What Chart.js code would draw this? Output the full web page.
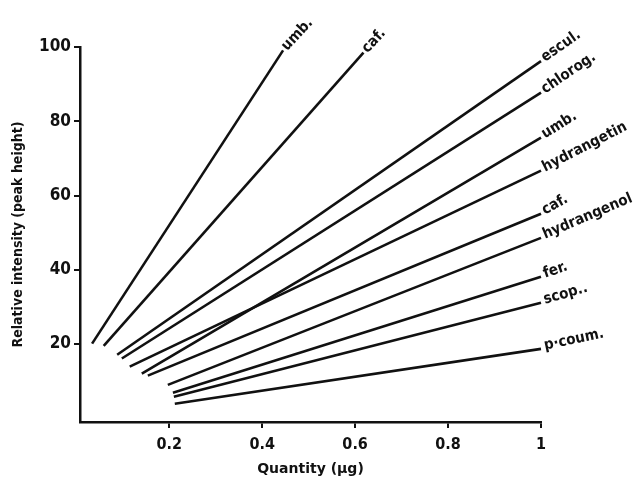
<!DOCTYPE html>
<html>
<head>
<meta charset="utf-8">
<script src="https://cdn.jsdelivr.net/npm/chart.js@4.4.0/dist/chart.umd.min.js"></script>
<style>
  html, body { margin: 0; padding: 0; background: #fff; }
</style>
</head>
<body>
<canvas id="chart" width="644" height="481"></canvas>
<script>
// composés (étiquettes des droites)
const compounds = ["umb.", "caf.", "escul.", "chlorog.", "umb.", "hydrangetin", "caf.", "hydrangenol", "fer.", "scop..", "p\u00b7coum."];
// quantité (µg) au début et à la fin de chaque droite
const qtyStart = [0.034, 0.059, 0.088, 0.098, 0.141, 0.115, 0.154, 0.197, 0.208, 0.21, 0.212];
const qtyEnd = [0.445, 0.618, 1, 1, 1, 1, 1, 1, 1, 1, 1];
// intensité relative (hauteur du pic)
const heightStart = [20.1, 19.5, 17.1, 16.1, 12.0, 13.9, 11.5, 9.0, 6.9, 5.8, 3.9];
const heightEnd = [99.1, 98.5, 96.2, 87.7, 75.6, 66.7, 55.1, 48.6, 38.1, 31.1, 18.7];
const xTicks = [0.2, 0.4, 0.6, 0.8, 1];
const yTicks = [20, 40, 60, 80, 100];

// angle des étiquettes en degrés
const labelAngles = [-47, -47, -35, -34, -32, -27, -29, -23, -19, -16, -12];

const ink = "#111";
const narrow = "'DejaVu Sans Condensed', 'DejaVu Sans', sans-serif";

const curveLabels = {
  id: "curveLabels",
  afterDatasetsDraw(chart) {
    const ctx = chart.ctx;
    const xs = chart.scales.x;
    const ys = chart.scales.y;
    ctx.save();
    ctx.fillStyle = ink;
    ctx.font = "bold 15px 'DejaVu Sans Condensed', 'DejaVu Sans', sans-serif";
    ctx.textBaseline = "alphabetic";
    ctx.textAlign = "left";
    compounds.forEach((name, i) => {
      const px = xs.getPixelForValue(qtyEnd[i]);
      const py = ys.getPixelForValue(heightEnd[i]);
      ctx.save();
      ctx.translate(px + 4, py + 1);
      ctx.rotate(labelAngles[i] * Math.PI / 180);
      ctx.fillText(name, 0, 0);
      ctx.restore();
    });
    ctx.restore();
  }
};

const datasets = compounds.map((name, i) => ({
  label: name,
  data: [
    { x: qtyStart[i], y: heightStart[i] },
    { x: qtyEnd[i], y: heightEnd[i] }
  ],
  borderColor: ink,
  borderWidth: 2.6,
  pointRadius: 0,
  fill: false,
  clip: false,
  tension: 0
}));

new Chart(document.getElementById("chart"), {
  type: "line",
  data: { datasets: datasets },
  plugins: [curveLabels],
  options: {
    responsive: false,
    animation: false,
    layout: { padding: { left: 0, top: 47, right: 103, bottom: 0 } },
    plugins: {
      legend: { display: false },
      tooltip: { enabled: false }
    },
    scales: {
      x: {
        type: "linear",
        min: 0.008,
        max: 1,
        afterBuildTicks: (s) => { s.ticks = xTicks.map((v) => ({ value: v })); },
        afterFit: (s) => { s.height = 59; },
        grid: { drawOnChartArea: false, tickLength: 6, color: ink, lineWidth: 2 },
        border: { color: ink, width: 2.5 },
        ticks: {
          color: ink,
          padding: 7,
          maxRotation: 0,
          font: { family: narrow, size: 16, weight: "bold" },
          callback: (v) => (v === 1 ? "1" : v.toFixed(1))
        },
        title: {
          display: true,
          text: "Quantity (\u00b5g)",
          color: ink,
          font: { family: "'DejaVu Sans', sans-serif", size: 14, weight: "bold" },
          padding: { top: 0, bottom: 3 }
        }
      },
      y: {
        min: -1,
        max: 100,
        afterBuildTicks: (s) => { s.ticks = yTicks.map((v) => ({ value: v })); },
        afterFit: (s) => { s.width = 80; },
        grid: { drawOnChartArea: false, tickLength: 6, color: ink, lineWidth: 2 },
        border: { color: ink, width: 2.5 },
        ticks: {
          color: ink,
          padding: 3,
          font: { family: narrow, size: 17, weight: "bold" }
        },
        title: {
          display: true,
          text: "Relative intensity (peak height)",
          color: ink,
          font: { family: narrow, size: 14, weight: "bold" },
          padding: { top: 10, bottom: 0 }
        }
      }
    }
  }
});
</script>
</body>
</html>
